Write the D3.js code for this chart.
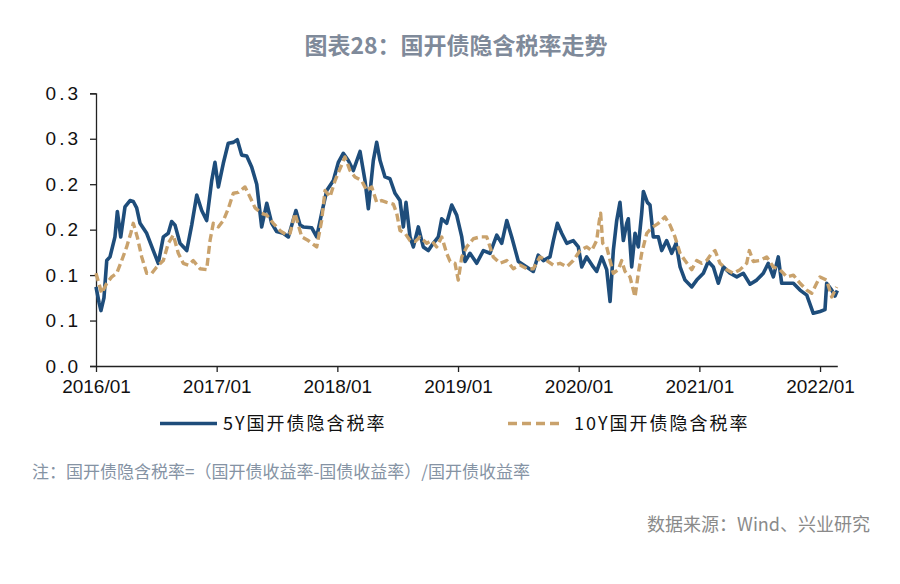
<!DOCTYPE html>
<html>
<head>
<meta charset="utf-8">
<script src="https://cdn.jsdelivr.net/npm/d3@7/dist/d3.min.js"></script>
<style>
  html, body { margin: 0; padding: 0; background: #ffffff; }
  svg { display: block; }
</style>
</head>
<body>
<svg id="chart" width="900" height="584"></svg>
<script>
// ---------- DATA (decimal year) ----------
const title = "图表28：国开债隐含税率走势";
const seriesNames = ["5Y国开债隐含税率", "10Y国开债隐含税率"];
const note = "注：国开债隐含税率=（国开债收益率-国债收益率）/国开债收益率";
const source = "数据来源：Wind、兴业研究";

const xTickValues = [2016, 2017, 2018, 2019, 2020, 2021, 2022];
const xTickLabels = ["2016/01", "2017/01", "2018/01", "2019/01", "2020/01", "2021/01", "2022/01"];
const yTickValues = [0, 0.05, 0.10, 0.15, 0.20, 0.25, 0.30];
const yTickLabels = ["0.0", "0.1", "0.1", "0.2", "0.2", "0.3", "0.3"];

const t5 = [2016.000,2016.025,2016.041,2016.066,2016.089,2016.116,2016.157,2016.177,2016.205,2016.240,
  2016.282,2016.309,2016.337,2016.365,2016.420,2016.475,2016.516,2016.558,2016.599,2016.627,
  2016.655,2016.696,2016.752,2016.793,2016.835,2016.876,2016.917,2016.959,2016.986,2017.014,
  2017.055,2017.096,2017.138,2017.171,2017.207,2017.249,2017.290,2017.332,2017.373,2017.415,
  2017.456,2017.497,2017.552,2017.594,2017.657,2017.691,2017.718,2017.788,2017.829,2017.870,
  2017.912,2017.967,2018.008,2018.049,2018.091,2018.132,2018.188,2018.229,2018.257,2018.298,
  2018.326,2018.354,2018.395,2018.436,2018.478,2018.519,2018.547,2018.569,2018.602,2018.630,
  2018.671,2018.712,2018.754,2018.795,2018.837,2018.865,2018.906,2018.948,2018.989,2019.031,
  2019.058,2019.099,2019.155,2019.210,2019.265,2019.321,2019.362,2019.404,2019.445,2019.500,
  2019.569,2019.624,2019.665,2019.707,2019.762,2019.790,2019.823,2019.859,2019.901,2019.955,
  2019.997,2020.025,2020.066,2020.121,2020.149,2020.191,2020.232,2020.260,2020.287,2020.315,
  2020.342,2020.370,2020.398,2020.411,2020.439,2020.467,2020.494,2020.522,2020.536,2020.569,
  2020.591,2020.618,2020.660,2020.688,2020.729,2020.771,2020.807,2020.840,2020.881,2020.937,
  2020.978,2021.033,2021.074,2021.116,2021.157,2021.199,2021.254,2021.310,2021.364,2021.420,
  2021.475,2021.530,2021.571,2021.613,2021.654,2021.682,2021.724,2021.779,2021.834,2021.890,
  2021.944,2022.000,2022.041,2022.055,2022.097,2022.124,2022.143];
const v5 = [0.087,0.070,0.061,0.075,0.116,0.120,0.142,0.170,0.142,0.175,
  0.182,0.181,0.174,0.157,0.146,0.127,0.113,0.142,0.146,0.159,
  0.155,0.135,0.127,0.155,0.188,0.171,0.160,0.204,0.224,0.197,
  0.223,0.245,0.246,0.249,0.232,0.231,0.219,0.200,0.153,0.179,
  0.157,0.148,0.146,0.142,0.171,0.155,0.153,0.152,0.142,0.168,
  0.193,0.204,0.224,0.234,0.226,0.215,0.236,0.204,0.173,0.226,
  0.246,0.226,0.208,0.206,0.190,0.182,0.153,0.180,0.142,0.131,
  0.153,0.131,0.127,0.135,0.142,0.162,0.157,0.177,0.166,0.142,
  0.115,0.124,0.113,0.127,0.124,0.144,0.135,0.160,0.142,0.115,
  0.109,0.104,0.122,0.116,0.120,0.138,0.157,0.146,0.135,0.138,
  0.131,0.109,0.120,0.109,0.104,0.120,0.106,0.071,0.127,0.160,
  0.180,0.138,0.157,0.162,0.109,0.146,0.131,0.168,0.192,0.180,
  0.177,0.142,0.142,0.127,0.138,0.124,0.135,0.109,0.0945,0.087,
  0.0945,0.102,0.115,0.109,0.091,0.109,0.102,0.098,0.102,0.090,
  0.0945,0.102,0.113,0.098,0.120,0.091,0.091,0.091,0.0835,0.078,
  0.058,0.060,0.062,0.091,0.0835,0.077,0.083];

const t10 = [2016.000,2016.047,2016.089,2016.130,2016.172,2016.213,2016.254,2016.288,2016.309,2016.342,
  2016.379,2016.420,2016.462,2016.503,2016.558,2016.599,2016.641,2016.682,2016.723,2016.765,
  2016.806,2016.862,2016.917,2016.945,2016.972,2017.014,2017.055,2017.096,2017.138,2017.179,
  2017.235,2017.276,2017.318,2017.373,2017.415,2017.469,2017.525,2017.580,2017.608,2017.649,
  2017.705,2017.759,2017.829,2017.870,2017.898,2017.939,2017.981,2018.022,2018.063,2018.105,
  2018.146,2018.202,2018.243,2018.285,2018.326,2018.368,2018.409,2018.464,2018.492,2018.519,
  2018.561,2018.602,2018.644,2018.685,2018.741,2018.782,2018.823,2018.865,2018.906,2018.934,
  2018.975,2019.002,2019.031,2019.072,2019.127,2019.182,2019.238,2019.292,2019.348,2019.404,
  2019.458,2019.514,2019.569,2019.624,2019.679,2019.735,2019.790,2019.845,2019.901,2019.955,
  2020.011,2020.066,2020.108,2020.149,2020.171,2020.182,2020.199,2020.232,2020.260,2020.287,
  2020.328,2020.356,2020.384,2020.425,2020.467,2020.494,2020.522,2020.564,2020.605,2020.660,
  2020.715,2020.757,2020.798,2020.840,2020.881,2020.937,2020.978,2021.019,2021.061,2021.102,
  2021.130,2021.171,2021.227,2021.281,2021.337,2021.392,2021.414,2021.447,2021.503,2021.558,
  2021.613,2021.668,2021.724,2021.779,2021.834,2021.890,2021.931,2021.972,2022.000,2022.055,
  2022.097,2022.138];
const v10 = [0.102,0.080,0.091,0.098,0.102,0.116,0.131,0.146,0.157,0.142,
  0.120,0.102,0.102,0.109,0.116,0.135,0.144,0.124,0.113,0.111,
  0.116,0.107,0.106,0.138,0.157,0.153,0.160,0.173,0.190,0.191,
  0.197,0.186,0.174,0.168,0.166,0.157,0.149,0.144,0.146,0.168,
  0.142,0.138,0.131,0.160,0.193,0.186,0.204,0.217,0.230,0.215,
  0.208,0.204,0.193,0.197,0.180,0.182,0.180,0.178,0.168,0.149,
  0.146,0.138,0.137,0.142,0.135,0.138,0.131,0.142,0.124,0.115,
  0.113,0.0945,0.120,0.131,0.140,0.142,0.142,0.120,0.113,0.116,
  0.107,0.111,0.107,0.107,0.120,0.116,0.111,0.113,0.109,0.116,
  0.127,0.131,0.127,0.138,0.160,0.168,0.135,0.131,0.116,0.102,
  0.106,0.116,0.104,0.098,0.076,0.102,0.124,0.146,0.152,0.157,
  0.164,0.155,0.142,0.124,0.116,0.106,0.116,0.113,0.116,0.124,
  0.127,0.113,0.106,0.102,0.106,0.113,0.127,0.115,0.116,0.120,
  0.109,0.106,0.098,0.100,0.091,0.0835,0.080,0.091,0.098,0.0945,
  0.076,0.087];

// ---------- CHART ----------
const svg = d3.select("#chart");
const cnFont = "'Noto Sans CJK SC', 'Noto Sans', sans-serif";
const numFont = "'Liberation Sans', Arial, sans-serif";

const x = d3.scaleLinear().domain([2016, 2022.143]).range([96, 837.3]);
const y = d3.scaleLinear().domain([0, 0.30]).range([366, 93.3]);

// title
svg.append("text")
  .attr("x", 456).attr("y", 54)
  .attr("text-anchor", "middle")
  .attr("font-family", cnFont)
  .attr("font-size", 23)
  .attr("font-weight", "bold")
  .attr("fill", "#7f8a9a")
  .text(title);

// y axis
const yAxis = d3.axisLeft(y)
  .tickValues(yTickValues)
  .tickFormat((d, i) => yTickLabels[i])
  .tickSize(6).tickPadding(9);
const gy = svg.append("g").attr("transform", "translate(96,0)").call(yAxis);
gy.select(".domain").attr("stroke", "#222").attr("stroke-width", 1.3);
gy.selectAll(".tick line").attr("stroke", "#222").attr("stroke-width", 1.3);
gy.selectAll(".tick text")
  .attr("font-family", numFont).attr("font-size", 19)
  .attr("letter-spacing", "3px")
  .attr("fill", "#111");

// x axis
const xAxis = d3.axisBottom(x)
  .tickValues(xTickValues)
  .tickFormat((d, i) => xTickLabels[i])
  .tickSize(6).tickPadding(8)
  .tickSizeOuter(0);
const gx = svg.append("g").attr("transform", "translate(0,366)").call(xAxis);
gx.select(".domain").attr("stroke", "#222").attr("stroke-width", 1.3);
gx.selectAll(".tick line").attr("stroke", "#222").attr("stroke-width", 1.3);
gx.selectAll(".tick text")
  .attr("font-family", numFont).attr("font-size", 19)
  .attr("fill", "#111");

// lines
const line = d3.line().x(d => x(d[0])).y(d => y(d[1]));
const d5 = t5.map((t, i) => [t, v5[i]]);
const d10 = t10.map((t, i) => [t, v10[i]]);

svg.append("path").datum(d5)
  .attr("d", line)
  .attr("fill", "none")
  .attr("stroke", "#1e4d7b")
  .attr("stroke-width", 3.6)
  .attr("stroke-linejoin", "round");

svg.append("path").datum(d10)
  .attr("d", line)
  .attr("fill", "none")
  .attr("stroke", "#c9a26c")
  .attr("stroke-width", 3.4)
  .attr("stroke-dasharray", "8,4")
  .attr("stroke-linejoin", "round");

// legend
const lg = svg.append("g");
lg.append("line").attr("x1", 160).attr("x2", 217).attr("y1", 423.5).attr("y2", 423.5)
  .attr("stroke", "#1e4d7b").attr("stroke-width", 3.4);
lg.append("text").attr("x", 223).attr("y", 430)
  .attr("font-family", cnFont).attr("font-size", 18)
  .attr("letter-spacing", "2px").attr("fill", "#111")
  .text(seriesNames[0]);
lg.append("line").attr("x1", 508).attr("x2", 562).attr("y1", 423.5).attr("y2", 423.5)
  .attr("stroke", "#c9a26c").attr("stroke-width", 3.4).attr("stroke-dasharray", "9,5");
lg.append("text").attr("x", 574).attr("y", 430)
  .attr("font-family", cnFont).attr("font-size", 18)
  .attr("letter-spacing", "2px").attr("fill", "#111")
  .text(seriesNames[1]);

// note
svg.append("text").attr("x", 32).attr("y", 478)
  .attr("font-family", cnFont).attr("font-size", 17)
  .attr("fill", "#8593a4")
  .text(note);

// source
svg.append("text").attr("x", 870).attr("y", 531)
  .attr("text-anchor", "end")
  .attr("font-family", cnFont).attr("font-size", 18)
  .attr("fill", "#8a8a8a")
  .text(source);
</script>
</body>
</html>
